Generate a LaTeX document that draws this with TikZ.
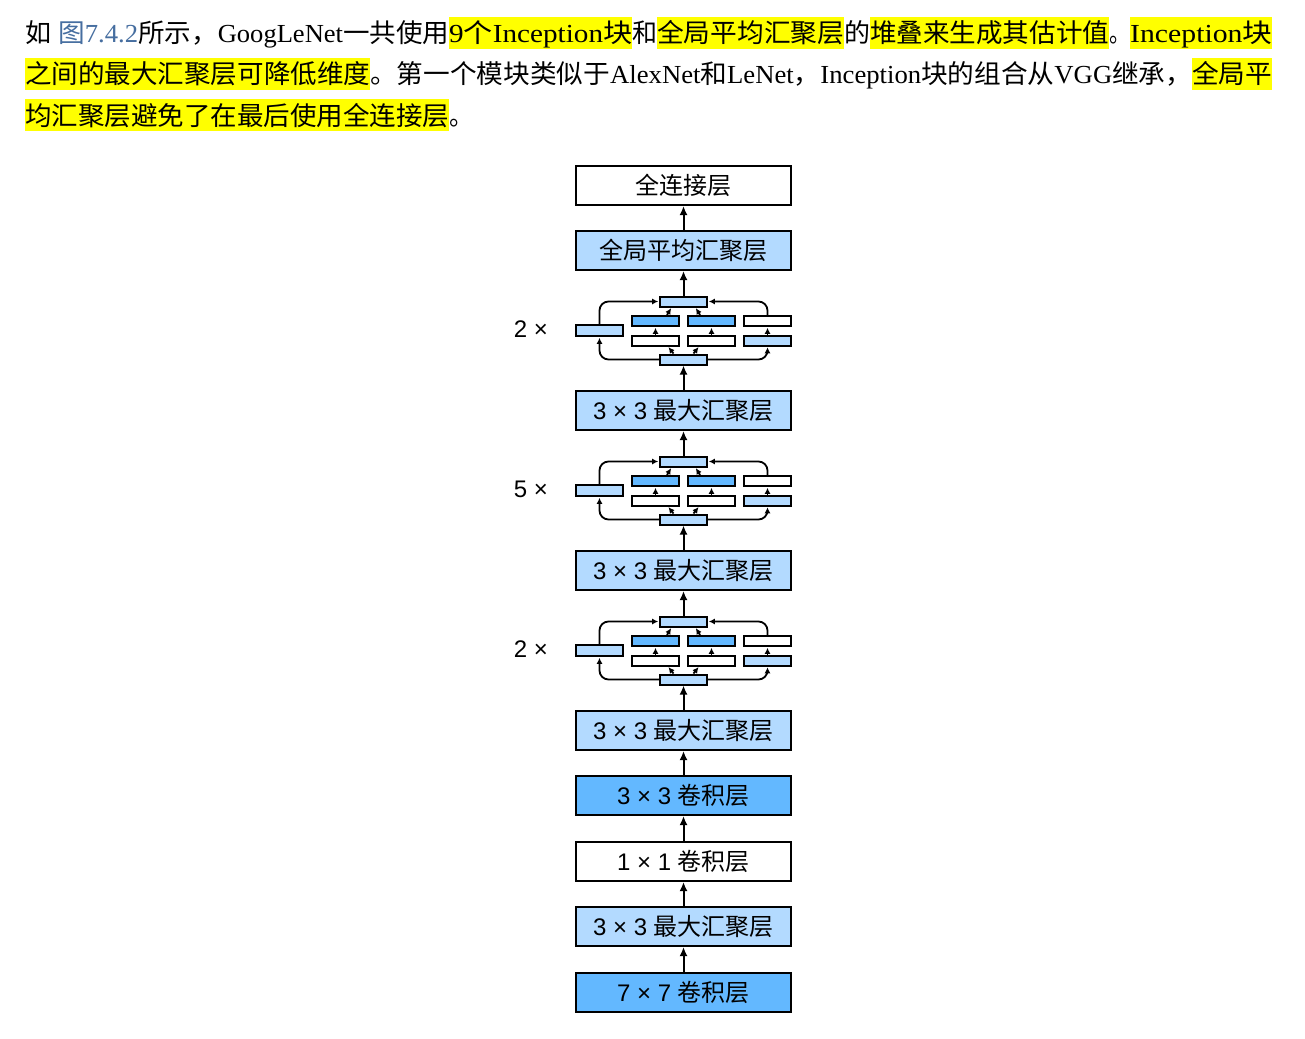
\documentclass[tikz,border=0pt]{standalone}
\usepackage{graphicx}
\usepackage{fontspec}
\setmainfont{Liberation Serif}
\newfontfamily\cjk{Noto Sans CJK SC}
\newfontfamily\sansf{Liberation Sans}
\usetikzlibrary{arrows.meta,calc}
\definecolor{lb}{HTML}{B3DAFF}
\definecolor{db}{HTML}{63B8FF}
\definecolor{hl}{HTML}{FFFF00}
\definecolor{lnk}{RGB}{70,110,160}
\newcommand\boxfont{\sansf\fontsize{24}{24}\selectfont}
\newcommand\txtfont{\fontsize{26}{26}\selectfont}
\newcommand\fitw[2]{\resizebox{#1pt}{\height}{#2}}
\begin{document}
\begin{tikzpicture}[x=1pt,y=-1pt,
  seg/.style={anchor=base west, inner sep=0pt, text height=26pt, text depth=6pt, font=\txtfont},
  bigbox/.style={draw, line width=2pt, minimum width=215pt, minimum height=39pt, inner sep=0pt, font=\boxfont},
  sbox/.style={draw, line width=2pt, minimum width=47pt, minimum height=10pt, inner sep=0pt},
  arr/.style={line width=2pt, -{Latex[length=9pt,width=8pt]}},
  sarr/.style={line width=1.8pt, -{Latex[length=6pt,width=6pt]}, shorten >=0.8pt},
  lab/.style={font=\boxfont, inner sep=0pt}]
\fill[white] (0,0) rectangle (1305,1038);
\useasboundingbox (0,0) rectangle (1305,1038);

% ---------- paragraph ----------
\node[seg] (p1) at (25,43) {\fitw{26}{\cjk 如}};
\node[seg, text=lnk] (p2) at (58,43) {\fitw{80}{{\cjk 图}7.4.2}};
\node[seg] (p3) at (138,43) {\fitw{311}{{\cjk 所示，}GoogLeNet{\cjk 一共使用}}};
\node[seg, fill=hl] (p4) at (449,43) {\fitw{183}{9{\cjk 个}Inception{\cjk 块}}};
\node[seg] (p5) at (632,43) {\fitw{25}{\cjk 和}};
\node[seg, fill=hl] (p6) at (657,43) {\fitw{187}{\cjk 全局平均汇聚层}};
\node[seg] (p7) at (844,43) {\fitw{26}{\cjk 的}};
\node[seg, fill=hl] (p8) at (870,43) {\fitw{239}{\cjk 堆叠来生成其估计值}};
\node[seg] (p9) at (1109,43) {\fitw{21}{\cjk 。}};
\node[seg, fill=hl] (p10) at (1130,43) {\fitw{142}{Inception{\cjk 块}}};

\node[seg, fill=hl] (q1) at (25,84) {\fitw{345}{\cjk 之间的最大汇聚层可降低维度}};
\node[seg] (q2) at (370,84) {\fitw{822}{{\cjk 。第一个模块类似于}AlexNet{\cjk 和}LeNet{\cjk ，}Inception{\cjk 块的组合从}VGG{\cjk 继承，}}};
\node[seg, fill=hl] (q3) at (1192,84) {\fitw{80}{\cjk 全局平}};

\node[seg, fill=hl] (r1) at (25,125) {\fitw{424}{\cjk 均汇聚层避免了在最后使用全连接层}};
\node[seg] (r2) at (449,125) {\fitw{24}{\cjk 。}};

% ---------- big boxes ----------
\node[bigbox, fill=white] (fc) at (683.5,185.5) {\cjk 全连接层};
\node[bigbox, fill=lb] (gap) at (683.5,250.5) {\cjk 全局平均汇聚层};
\node[bigbox, fill=lb] (mp3) at (683.5,410.5) {3 × 3 {\cjk 最大汇聚层}};
\node[bigbox, fill=lb] (mp2) at (683.5,570.5) {3 × 3 {\cjk 最大汇聚层}};
\node[bigbox, fill=lb] (mp1) at (683.5,730.5) {3 × 3 {\cjk 最大汇聚层}};
\node[bigbox, fill=db] (cv3) at (683.5,795.5) {3 × 3 {\cjk 卷积层}};
\node[bigbox, fill=white] (cv1) at (683.5,861.5) {1 × 1 {\cjk 卷积层}};
\node[bigbox, fill=lb] (mp0) at (683.5,926.5) {3 × 3 {\cjk 最大汇聚层}};
\node[bigbox, fill=db] (cv7) at (683.5,992.5) {7 × 7 {\cjk 卷积层}};

% ---------- inception blocks ----------
\foreach \T/\k/\n in {296/a/2,456/b/5,616/c/2}{
  \node[sbox, fill=lb] (t\k) at (683.5,\T+5.5) {};
  \node[sbox, fill=lb] (b\k) at (683.5,\T+63.5) {};
  \node[sbox, fill=lb, minimum height=11pt] (l\k) at (599.5,\T+34.5) {};
  \node[sbox, fill=db] (u2\k) at (655.5,\T+25) {};
  \node[sbox, fill=white] (d2\k) at (655.5,\T+44.5) {};
  \node[sbox, fill=db] (u3\k) at (711.5,\T+25) {};
  \node[sbox, fill=white] (d3\k) at (711.5,\T+44.5) {};
  \node[sbox, fill=white] (u4\k) at (767.5,\T+25) {};
  \node[sbox, fill=lb] (d4\k) at (767.5,\T+44.5) {};
  \node[lab] (lab\k) at (531,\T+33) {\n\ ×};
  % branch 1
  \draw[sarr, rounded corners=9pt] (b\k.west) -| (l\k.south);
  \draw[sarr, rounded corners=9pt] (l\k.north) |- (t\k.west);
  % branch 4
  \draw[sarr, rounded corners=9pt] (b\k.east) -| (d4\k.south);
  \draw[sarr] (d4\k.north) -- (u4\k.south);
  \draw[sarr, rounded corners=9pt] (u4\k.north) |- (t\k.east);
  % branches 2 and 3
  \draw[sarr] ($(b\k.north)+(-10,0)$) -- ($(d2\k.south east)+(-12,0)$);
  \draw[sarr] ($(b\k.north)+(10,0)$) -- ($(d3\k.south west)+(12,0)$);
  \draw[sarr] (d2\k.north) -- (u2\k.south);
  \draw[sarr] (d3\k.north) -- (u3\k.south);
  \draw[sarr] ($(u2\k.north east)+(-13,0)$) -- ($(t\k.south)+(-12,0)$);
  \draw[sarr] ($(u3\k.north west)+(13,0)$) -- ($(t\k.south)+(12,0)$);
}

% ---------- main arrows ----------
\draw[arr] (cv7.north) -- (mp0.south);
\draw[arr] (mp0.north) -- (cv1.south);
\draw[arr] (cv1.north) -- (cv3.south);
\draw[arr] (cv3.north) -- (mp1.south);
\draw[arr] (mp1.north) -- (bc.south);
\draw[arr] (tc.north) -- (mp2.south);
\draw[arr] (mp2.north) -- (bb.south);
\draw[arr] (tb.north) -- (mp3.south);
\draw[arr] (mp3.north) -- (ba.south);
\draw[arr] (ta.north) -- (gap.south);
\draw[arr] (gap.north) -- (fc.south);
\end{tikzpicture}
\end{document}
